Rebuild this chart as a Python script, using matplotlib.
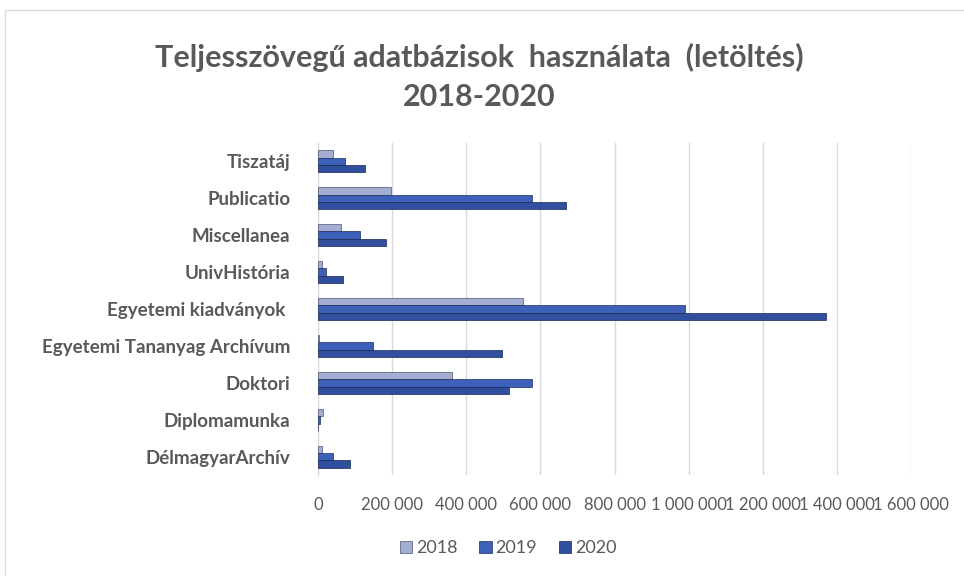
import numpy as np
import matplotlib
matplotlib.use("Agg")
import matplotlib.pyplot as plt
from matplotlib.patches import Rectangle
from matplotlib.ticker import FuncFormatter

# Adatok (alulról felfelé, ahogy a diagram rajzolja)
kategoriak = ['DélmagyarArchív', 'Diplomamunka', 'Doktori',
              'Egyetemi Tananyag Archívum', 'Egyetemi kiadványok ',
              'UnivHistória', 'Miscellanea', 'Publicatio', 'Tiszatáj']
ev_2018 = [11000, 13000, 360000, 3000, 553000, 11000, 63000, 197000, 39000]
ev_2019 = [41000, 6000, 578000, 149000, 989000, 20000, 112000, 577000, 72000]
ev_2020 = [86000, 1000, 515000, 496000, 1371000, 66000, 182000, 668000, 127000]
evek = ['2018', '2019', '2020']
x_tickek = [0, 200000, 400000, 600000, 800000, 1000000, 1200000, 1400000, 1600000]

szurke = '#595959'
plt.rcParams['font.family'] = ['Lato', 'DejaVu Sans']

fig = plt.figure(figsize=(9.64, 5.76), dpi=100)
ax = fig.add_axes([0.330, 0.175, 0.615, 0.577])

# Keret a diagram körül
fig.patches.append(Rectangle((5 / 964, -0.02), 1.0, 1 - 10 / 576 + 0.02,
                             transform=fig.transFigure, fill=False,
                             edgecolor='#d9d9d9', linewidth=1.0))

y = np.arange(len(kategoriak))
h = 0.2
ax.barh(y + h, ev_2018, height=h, color='#a3aed2', edgecolor='#4a5272',
        linewidth=0.5, label=evek[0], zorder=3)
ax.barh(y, ev_2019, height=h, color='#3d60b8', edgecolor='#1e2d5a',
        linewidth=0.5, label=evek[1], zorder=3)
ax.barh(y - h, ev_2020, height=h, color='#30509f', edgecolor='#1a264d',
        linewidth=0.5, label=evek[2], zorder=3)

ax.set_ylim(-0.5, len(kategoriak) - 0.5)
ax.set_xlim(0, 1600000)
ax.set_xticks(x_tickek)
ax.xaxis.set_major_formatter(FuncFormatter(lambda v, p: f'{int(v):,}'.replace(',', ' ')))
ax.set_yticks(y)
ax.set_yticklabels(kategoriak)

ax.grid(axis='x', color='#d9d9d9', linewidth=1.0, zorder=0)
for s in ['top', 'right', 'bottom']:
    ax.spines[s].set_visible(False)
ax.spines['left'].set_color('#d9d9d9')
ax.tick_params(axis='both', length=0, colors=szurke)
ax.tick_params(axis='x', labelsize=12, pad=16)
ax.tick_params(axis='y', labelsize=13.5, pad=20)
for t in ax.get_yticklabels():
    t.set_fontweight('bold')

fig.text(0.497, 0.90, 'Teljesszövegű adatbázisok  használata  (letöltés)',
         ha='center', va='center', fontsize=22, fontweight='bold', color=szurke)
fig.text(0.497, 0.832, '2018-2020', ha='center', va='center',
         fontsize=22, fontweight='bold', color=szurke)

ax.legend(loc='center', bbox_to_anchor=(0.527, 0.048), bbox_transform=fig.transFigure,
          ncol=3, frameon=False, fontsize=13, handlelength=0.7, handleheight=0.7,
          handletextpad=0.2, columnspacing=1.2, labelcolor=szurke)

fig.savefig('out.png', dpi=100, facecolor='white')
